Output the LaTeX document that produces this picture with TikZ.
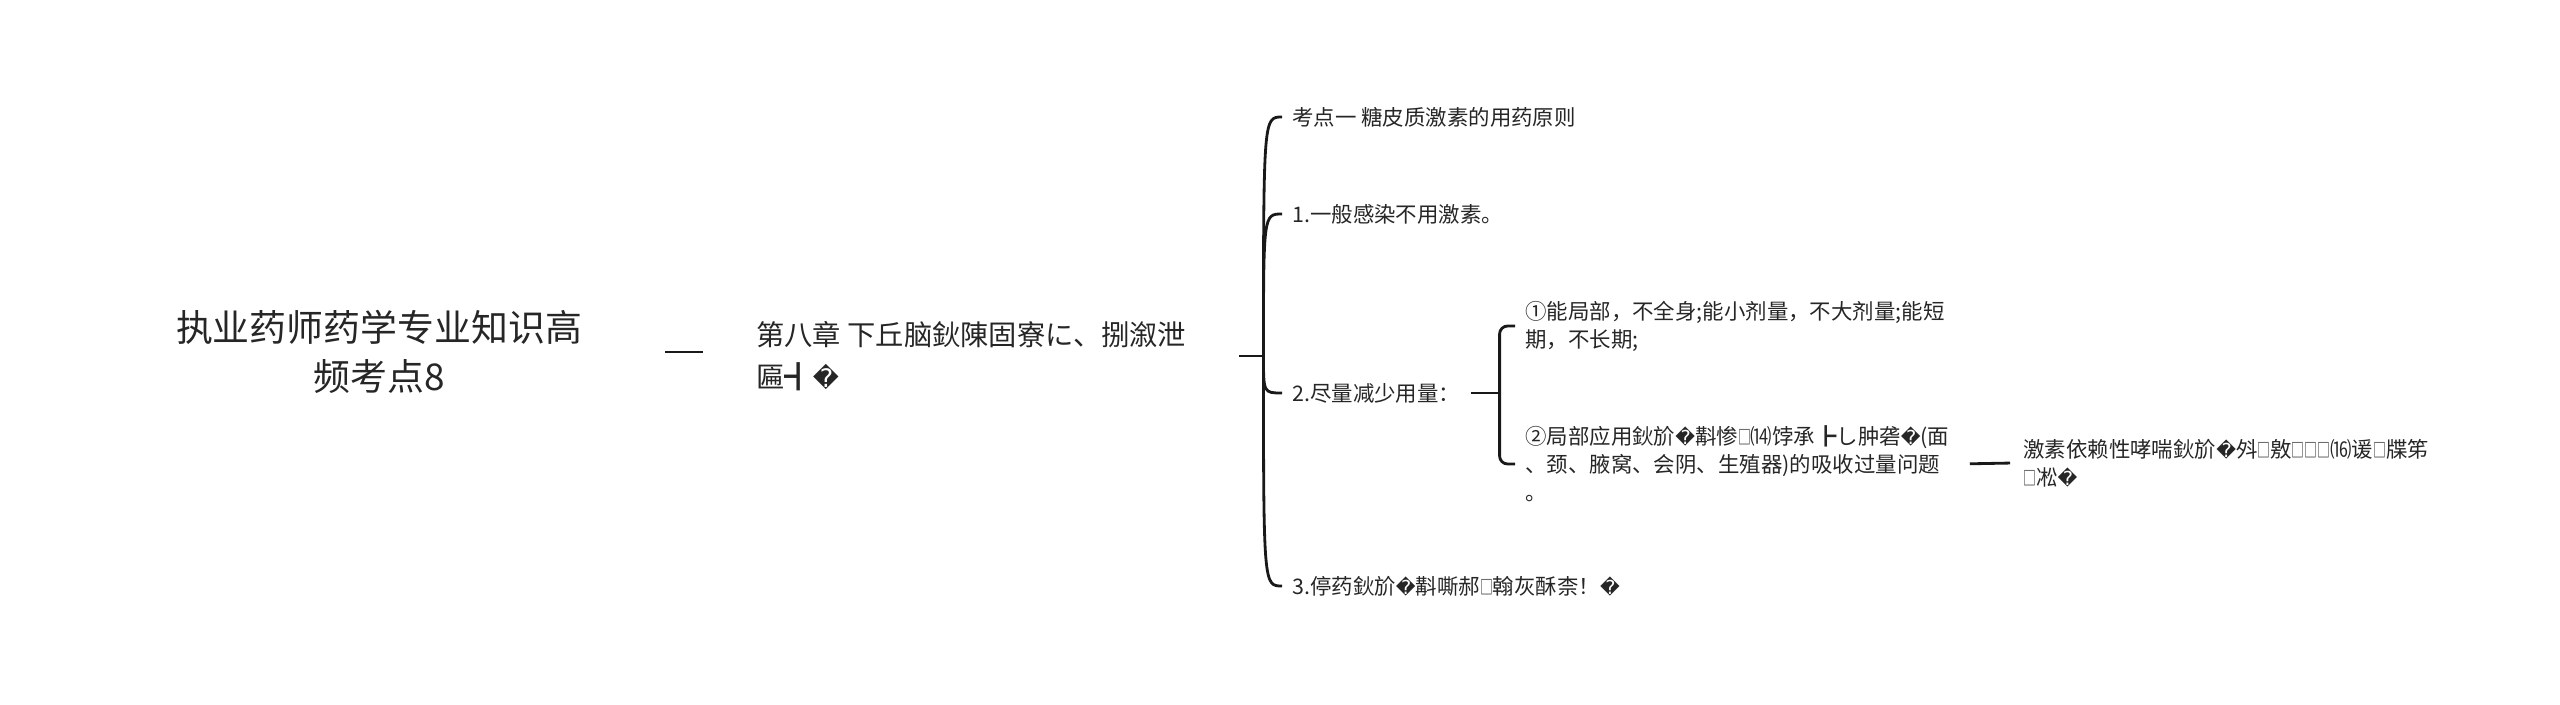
\documentclass[tikz,border=0pt]{standalone}
\usepackage{fontspec}
\usepackage{graphicx}
\setmainfont{Noto Sans CJK SC}
\newfontfamily\repfont[Scale=0.9]{DejaVu Sans}
\newcommand{\rpl}{{\repfont ^^^^fffd}}
\newcommand{\bx}{\scalebox{0.6}[0.9]{□}}
\usepackage{tikz}

\begin{document}
\begin{tikzpicture}[x=0.02cm,y=-0.02cm]
    \tikzstyle{topic} = [inner xsep=1.66cm, inner ysep=0pt, align=center, text=black!85, font=\fontsize{21pt}{27.8pt}\selectfont]
    \tikzstyle{chapter} = [anchor=west, inner xsep=1.06cm, inner ysep=0pt, align=left, text=black!85, font=\fontsize{16.1pt}{23.8pt}\selectfont]
    \tikzstyle{point} = [anchor=west, inner xsep=0.2cm, inner ysep=0pt, align=left, text=black!85, font=\fontsize{12.2pt}{15.9pt}\selectfont]
    \tikzstyle{link} = [draw=black!90, line width=1.6pt]
    \useasboundingbox (0,0) rectangle (2560,705);
    \node [topic] (T) at (379,352) {执业药师药学专业知识高\\频考点8};
    \node [chapter] (Ch) at (703,356) {第八章 下丘脑鈥陳固寮に、捌溆泄\\匾┫\rpl};
    \node [point] (P0) at (1282,117) {考点一 糖皮质激素的用药原则};
    \node [point] (P1) at (1282,214) {1.一般感染不用激素。};
    \node [point] (P2) at (1282,393) {2.尽量减少用量：};
    \node [point] (P3) at (1282,586) {3.停药鈥斺\rpl 斠嘶郝\bx 翰灰酥柰！\rpl};
    \node [point] (S1) at (1515,326) {①能局部，不全身;能小剂量，不大剂量;能短\\期，不长期;};
    \node [point] (S2) at (1515,464) {②局部应用鈥斺\rpl 斠惨\bx ⒁饽承┣し肿砻\rpl(面\\、颈、腋窝、会阴、生殖器)的吸收过量问题\\。};
    \node [point] (L) at (2013,463) {激素依赖性哮喘鈥斺\rpl 斘\bx 敫\bx\bx\bx ⒃谖\bx 牒笫\\\bx 凇\rpl};
    \path (Ch.east) ++(24,0) coordinate (J1);
    \path (P2.east) ++(29,0) coordinate (J2);
    \draw [link] (T.east) -- (T.east -| Ch.west);
    \draw [link] (Ch.east) -- (J1);
    \foreach \p in {P0,P1,P2,P3}
        \draw [link] (J1) .. controls (J1 |- \p.west) .. (\p.west);
    \draw [link] (P2.east) -- (J2);
    \draw [link, rounded corners=0.16cm] (J2) |- (S1.west);
    \draw [link, rounded corners=0.16cm] (J2) |- (S2.west);
    \draw [link, shorten <=0.2cm, shorten >=0.06cm] (S2.east) -- (L.west);
\end{tikzpicture}
\end{document}
